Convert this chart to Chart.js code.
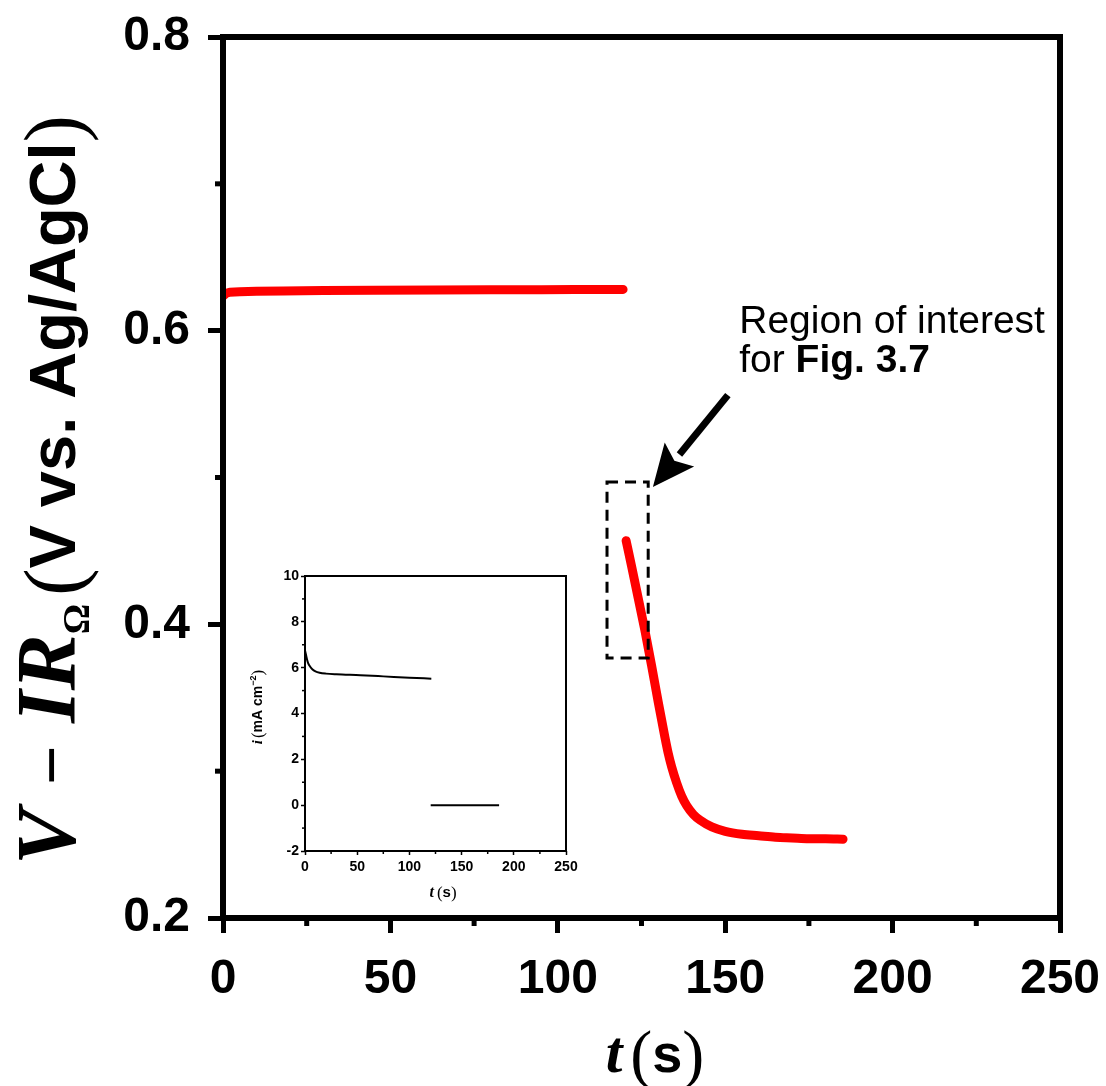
<!DOCTYPE html>
<html>
<head>
<meta charset="utf-8">
<script src="https://cdn.jsdelivr.net/npm/chart.js@4.4.1/dist/chart.umd.min.js"></script>
<style>
  html, body { margin: 0; padding: 0; background: #fff; }
  #wrap { position: relative; width: 1106px; height: 1086px; }
  #mainChart { position: absolute; left: 0; top: 0; }
  #insetChart { position: absolute; left: 230px; top: 560px; }
</style>
</head>
<body>
<div id="wrap">
  <canvas id="mainChart" width="1106" height="1086"></canvas>
  <canvas id="insetChart" width="360" height="350"></canvas>
</div>
<script>
// main chart: potential vs time
let holdTime = [0, 1, 2, 5, 10, 18, 30, 45, 63, 80, 95, 105, 112, 119.5];
let holdPotential = [0.6236, 0.6255, 0.6262, 0.6265, 0.6268, 0.627, 0.6274, 0.6276, 0.6277, 0.6278, 0.6279, 0.628, 0.6281, 0.6281];

let stepTime = [120.4, 122, 124, 126, 128, 130, 132, 133, 134, 135.5, 137, 138.5, 140.5, 142.5, 146, 150, 155, 160, 165, 170, 175, 180, 185.2];
let stepPotential = [0.457, 0.440, 0.418, 0.396, 0.372, 0.347, 0.323, 0.312, 0.303, 0.292, 0.283, 0.2765, 0.2705, 0.2666, 0.262, 0.259, 0.257, 0.256, 0.255, 0.2545, 0.254, 0.254, 0.2537];

// inset: current density vs time
let insetTimeOn = [0, 1, 2, 3, 5, 7, 10, 14, 20, 30, 53, 75, 100, 121];
let insetCurrentOn = [6.75, 6.55, 6.35, 6.2, 6.04, 5.93, 5.84, 5.78, 5.74, 5.71, 5.67, 5.62, 5.56, 5.52];
let insetTimeOff = [120.4, 185.9];
let insetCurrentOff = [0, 0];

let mainXTicks = [0, 50, 100, 150, 200, 250];
let mainYTicks = [0.2, 0.4, 0.6, 0.8];
let insetXTicks = [0, 50, 100, 150, 200, 250];
let insetYTicks = [-2, 0, 2, 4, 6, 8, 10];

// region of interest box, arrow and label (in data units)
let roiBox = { t0: 114.7, t1: 127, v0: 0.377, v1: 0.497 };
let arrowFrom = { t: 150.8, v: 0.5561 };
let arrowTo = { t: 128.4, v: 0.4935 };
let noteAt = { t: 154.2, v1: 0.5984, v2: 0.5718 };

function toPoints(xs, ys) {
    return xs.map(function(x, i) { return { x: x, y: ys[i] }; });
}

// draw text made of several pieces with their own fonts
function drawRich(ctx, segs, x, y, angle, align) {
    ctx.save();
    ctx.translate(x, y);
    if (angle) ctx.rotate(angle);
    let total = 0;
    segs.forEach(function(s) {
        ctx.font = s.font;
        s.w = ctx.measureText(s.text).width + (s.gap || 0);
        total += s.w;
    });
    let cx = align === 'left' ? 0 : -total / 2;
    ctx.fillStyle = '#000';
    ctx.textBaseline = 'alphabetic';
    ctx.textAlign = 'left';
    segs.forEach(function(s) {
        ctx.font = s.font;
        ctx.fillText(s.text, cx, s.dy || 0);
        cx += s.w;
    });
    ctx.restore();
}

function drawMinorTicks(ctx, chart, xMinor, yMinor, len, width) {
    let xs = chart.scales.x, ys = chart.scales.y, a = chart.chartArea;
    ctx.save();
    ctx.strokeStyle = '#000';
    ctx.lineWidth = width;
    xMinor.forEach(function(v) {
        let px = xs.getPixelForValue(v);
        ctx.beginPath();
        ctx.moveTo(px, a.bottom);
        ctx.lineTo(px, a.bottom + len);
        ctx.stroke();
    });
    yMinor.forEach(function(v) {
        let py = ys.getPixelForValue(v);
        ctx.beginPath();
        ctx.moveTo(a.left, py);
        ctx.lineTo(a.left - len, py);
        ctx.stroke();
    });
    ctx.restore();
}

let mainDecor = {
    id: 'mainDecor',
    afterDraw: function(chart) {
        let ctx = chart.ctx, a = chart.chartArea;
        let xs = chart.scales.x, ys = chart.scales.y;

        // frame
        ctx.save();
        ctx.strokeStyle = '#000';
        ctx.lineWidth = 6;
        ctx.strokeRect(a.left, a.top, a.right - a.left, a.bottom - a.top);
        ctx.restore();

        drawMinorTicks(ctx, chart, [25, 75, 125, 175, 225], [0.3, 0.5, 0.7], 8, 5);

        // dashed box
        ctx.save();
        ctx.strokeStyle = '#000';
        ctx.lineWidth = 3;
        ctx.setLineDash([11, 7]);
        let bx0 = xs.getPixelForValue(roiBox.t0), bx1 = xs.getPixelForValue(roiBox.t1);
        let by0 = ys.getPixelForValue(roiBox.v1), by1 = ys.getPixelForValue(roiBox.v0);
        ctx.strokeRect(bx0, by0, bx1 - bx0, by1 - by0);
        ctx.restore();

        // arrow
        let tx = xs.getPixelForValue(arrowFrom.t), ty = ys.getPixelForValue(arrowFrom.v);
        let hx = xs.getPixelForValue(arrowTo.t), hy = ys.getPixelForValue(arrowTo.v);
        let ang = Math.atan2(hy - ty, hx - tx);
        let headLen = 42, headW = 19;
        let bxh = hx - headLen * Math.cos(ang), byh = hy - headLen * Math.sin(ang);
        ctx.save();
        ctx.strokeStyle = '#000';
        ctx.fillStyle = '#000';
        ctx.lineWidth = 7;
        ctx.beginPath();
        ctx.moveTo(tx, ty);
        ctx.lineTo(bxh, byh);
        ctx.stroke();
        ctx.beginPath();
        ctx.moveTo(hx, hy);
        ctx.lineTo(bxh + headW * Math.sin(ang), byh - headW * Math.cos(ang));
        ctx.lineTo(bxh + 8 * Math.cos(ang), byh + 8 * Math.sin(ang));
        ctx.lineTo(bxh - headW * Math.sin(ang), byh + headW * Math.cos(ang));
        ctx.closePath();
        ctx.fill();
        ctx.restore();

        // annotation text
        let lx = xs.getPixelForValue(noteAt.t);
        let noteFont = '39px "Liberation Sans", Arial, sans-serif';
        drawRich(ctx, [{ text: 'Region of interest', font: noteFont }],
            lx, ys.getPixelForValue(noteAt.v1), 0, 'left');
        drawRich(ctx, [
            { text: 'for ', font: noteFont },
            { text: 'Fig. 3.7', font: 'bold ' + noteFont }
        ], lx, ys.getPixelForValue(noteAt.v2), 0, 'left');

        // axis titles
        let serifBI = 'italic bold 84px "Liberation Serif", "Times New Roman", serif';
        drawRich(ctx, [
            { text: 'V', font: serifBI, gap: 24 },
            { text: '\u2212', font: 'bold 70px "Liberation Serif", serif', gap: 22 },
            { text: 'IR', font: serifBI },
            { text: '\u03A9', font: 'bold 38px "Liberation Serif", serif', dy: 14, gap: 8 },
            { text: '(', font: '82px "Liberation Serif", serif', dy: 6 },
            { text: 'V vs. Ag/AgCl', font: 'bold 65px "Liberation Sans", Arial, sans-serif' },
            { text: ')', font: '82px "Liberation Serif", serif', dy: 6 }
        ], 75, 490, -Math.PI / 2);

        drawRich(ctx, [
            { text: 't', font: 'italic bold 60px "Liberation Serif", serif', gap: 8 },
            { text: '(', font: '66px "Liberation Serif", serif', dy: 4 },
            { text: 's', font: 'bold 54px "Liberation Sans", Arial, sans-serif' },
            { text: ')', font: '66px "Liberation Serif", serif', dy: 4 }
        ], 655, 1072, 0);
    }
};

let insetDecor = {
    id: 'insetDecor',
    afterDraw: function(chart) {
        let ctx = chart.ctx, a = chart.chartArea;
        ctx.save();
        ctx.strokeStyle = '#000';
        ctx.lineWidth = 2;
        ctx.strokeRect(a.left, a.top, a.right - a.left, a.bottom - a.top);
        ctx.restore();
        drawMinorTicks(ctx, chart, [25, 75, 125, 175, 225], [-1, 1, 3, 5, 7, 9], 3, 1.5);

        drawRich(ctx, [
            { text: 'i', font: 'italic bold 15px "Liberation Serif", serif', gap: 2 },
            { text: '(', font: '17px "Liberation Serif", serif', dy: 1 },
            { text: 'mA cm', font: 'bold 14px "Liberation Sans", Arial, sans-serif' },
            { text: '\u22122', font: 'bold 9px "Liberation Sans", Arial, sans-serif', dy: -6 },
            { text: ')', font: '17px "Liberation Serif", serif', dy: 1 }
        ], 32, 147, -Math.PI / 2);

        drawRich(ctx, [
            { text: 't', font: 'italic bold 16px "Liberation Serif", serif', gap: 3 },
            { text: '(', font: '17px "Liberation Serif", serif', dy: 1 },
            { text: 's', font: 'bold 15px "Liberation Sans", Arial, sans-serif' },
            { text: ')', font: '17px "Liberation Serif", serif', dy: 1 }
        ], 213, 337, 0);
    }
};

function fixedTicks(list) {
    return function(scale) {
        scale.ticks = list.map(function(v) { return { value: v }; });
    };
}

// keep the plot area where the padding puts it
function fitTo(prop, size) {
    return function(scale) {
        scale[prop] = size;
        scale.paddingTop = 0;
        scale.paddingBottom = 0;
        scale.paddingLeft = 0;
        scale.paddingRight = 0;
    };
}

let mainCtx = document.getElementById('mainChart').getContext('2d');
let mainChart = new Chart(mainCtx, {
    type: 'scatter',
    data: {
        datasets: [{
            data: toPoints(holdTime, holdPotential),
            showLine: true, borderColor: '#ff0000', borderWidth: 9,
            pointRadius: 0, borderCapStyle: 'round', borderJoinStyle: 'round', tension: 0
        }, {
            data: toPoints(stepTime, stepPotential),
            showLine: true, borderColor: '#ff0000', borderWidth: 9,
            pointRadius: 0, borderCapStyle: 'round', borderJoinStyle: 'round', cubicInterpolationMode: 'monotone'
        }]
    },
    options: {
        responsive: false,
        devicePixelRatio: 1,
        animation: false,
        layout: { padding: { top: 37, right: 46, left: 0, bottom: 0 } },
        plugins: { legend: { display: false }, tooltip: { enabled: false } },
        scales: {
            x: {
                type: 'linear', min: 0, max: 250,
                afterBuildTicks: fixedTicks(mainXTicks),
                afterFit: fitTo('height', 168),
                border: { display: false },
                grid: { drawOnChartArea: false, drawTicks: true, tickLength: 15, tickWidth: 5, tickColor: '#000' },
                ticks: {
                    padding: 18, color: '#000', maxRotation: 0,
                    font: { family: '"Liberation Sans", Arial, sans-serif', size: 48, weight: 'bold' },
                    callback: function(v) { return String(v); }
                }
            },
            y: {
                type: 'linear', min: 0.2, max: 0.8,
                afterBuildTicks: fixedTicks(mainYTicks),
                afterFit: fitTo('width', 223),
                border: { display: false },
                grid: { drawOnChartArea: false, drawTicks: true, tickLength: 15, tickWidth: 5, tickColor: '#000' },
                ticks: {
                    padding: 18, color: '#000',
                    font: { family: '"Liberation Sans", Arial, sans-serif', size: 48, weight: 'bold' },
                    callback: function(v) { return Number(v).toFixed(1); }
                }
            }
        }
    },
    plugins: [mainDecor]
});

let insetCtx = document.getElementById('insetChart').getContext('2d');
let insetChart = new Chart(insetCtx, {
    type: 'scatter',
    data: {
        datasets: [{
            data: toPoints(insetTimeOn, insetCurrentOn),
            showLine: true, borderColor: '#000', borderWidth: 2, pointRadius: 0, cubicInterpolationMode: 'monotone'
        }, {
            data: toPoints(insetTimeOff, insetCurrentOff),
            showLine: true, borderColor: '#000', borderWidth: 2, pointRadius: 0
        }]
    },
    options: {
        responsive: false,
        devicePixelRatio: 1,
        animation: false,
        layout: { padding: { top: 16, right: 24, left: 0, bottom: 0 } },
        plugins: { legend: { display: false }, tooltip: { enabled: false } },
        scales: {
            x: {
                type: 'linear', min: 0, max: 250,
                afterBuildTicks: fixedTicks(insetXTicks),
                afterFit: fitTo('height', 59),
                border: { display: false },
                grid: { drawOnChartArea: false, drawTicks: true, tickLength: 4, tickWidth: 1.5, tickColor: '#000' },
                ticks: {
                    padding: 4, color: '#000', maxRotation: 0,
                    font: { family: '"Liberation Sans", Arial, sans-serif', size: 14, weight: 'bold' }
                }
            },
            y: {
                type: 'linear', min: -2, max: 10,
                afterBuildTicks: fixedTicks(insetYTicks),
                afterFit: fitTo('width', 75),
                border: { display: false },
                grid: { drawOnChartArea: false, drawTicks: true, tickLength: 4, tickWidth: 1.5, tickColor: '#000' },
                ticks: {
                    padding: 2, color: '#000',
                    font: { family: '"Liberation Sans", Arial, sans-serif', size: 14, weight: 'bold' }
                }
            }
        }
    },
    plugins: [insetDecor]
});
</script>
</body>
</html>
